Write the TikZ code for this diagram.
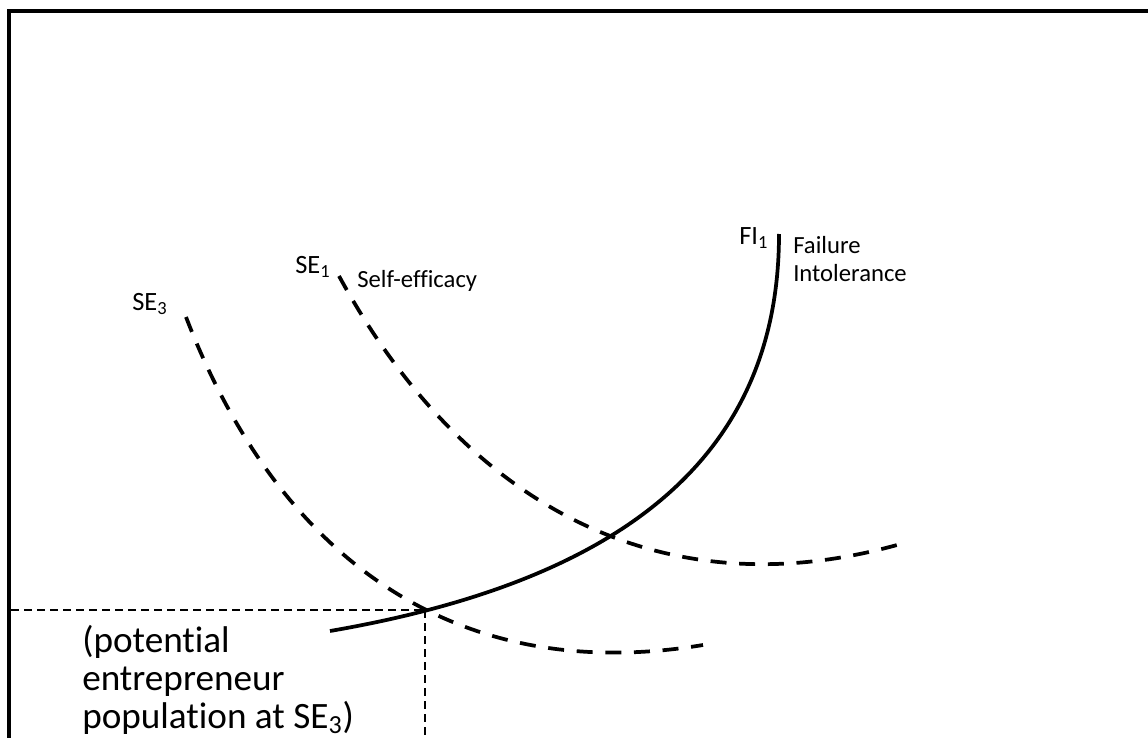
\documentclass[tikz,border=0pt]{standalone}
\usepackage{fontspec}
\setmainfont{Carlito}[Ligatures=CommonOff]
\begin{document}
\begin{tikzpicture}[x=0.75pt,y=-0.75pt,
  frameline/.style={line width=3pt, line join=miter},
  solidcurve/.style={line width=2.8pt},
  dashcurve/.style={line width=2.8pt, dash pattern=on 12pt off 9.5pt},
  guide/.style={line width=1.2pt, dash pattern=on 6pt off 3.75pt},
  lbl/.style={inner sep=0pt, anchor=base west, font=\fontsize{19.8}{23}\selectfont},
  desc/.style={inner sep=0pt, anchor=base west, align=left, font=\fontsize{18.5}{21}\selectfont},
  bigtxt/.style={inner sep=0pt, anchor=base west, align=left, font=\fontsize{27.9}{28.5}\selectfont}]
\useasboundingbox (0,0) rectangle (1148,738);
% frame
\coordinate (fbl) at (9.3,740);
\coordinate (ftl) at (9.3,11);
\coordinate (ftr) at (1150,11);
\draw[frameline] (fbl) -- (ftl) -- (ftr);
% guides
\coordinate (hstart) at (11,610);
\coordinate (hend) at (431,610);
\coordinate (vstart) at (425,610);
\coordinate (vend) at (425,740);
\draw[guide] (hstart) -- (hend);
\draw[guide] (vstart) -- (vend);
% curves
\coordinate (se3a) at (186,317);
\coordinate (se3b) at (703,645);
\coordinate (se1a) at (339,276);
\coordinate (se1b) at (897,545);
\coordinate (fia) at (330,631);
\coordinate (fib) at (779,234);
\draw[dashcurve] (se3a) .. controls (282,566) and (462,685) .. (se3b);
\draw[dashcurve] (se1a) .. controls (460.4,499) and (655,612) .. (se1b);
\draw[solidcurve] (fia) .. controls (621.6,580.7) and (779,457.7) .. (fib);
% labels
\node[lbl] (se3) at (132,310) {SE\textsubscript{3}};
\node[lbl] (se1) at (295,273) {SE\textsubscript{1}};
\node[desc] (seff) at (357,287) {Self-efficacy};
\node[lbl] (fi1) at (739,244) {FI\textsubscript{1}};
\node[desc] (fint) at (793,281) {Failure\\Intolerance};
\node[bigtxt] (pop) at (82,728) {(potential\\entrepreneur\\population at SE\textsubscript{3})};
\end{tikzpicture}
\end{document}
